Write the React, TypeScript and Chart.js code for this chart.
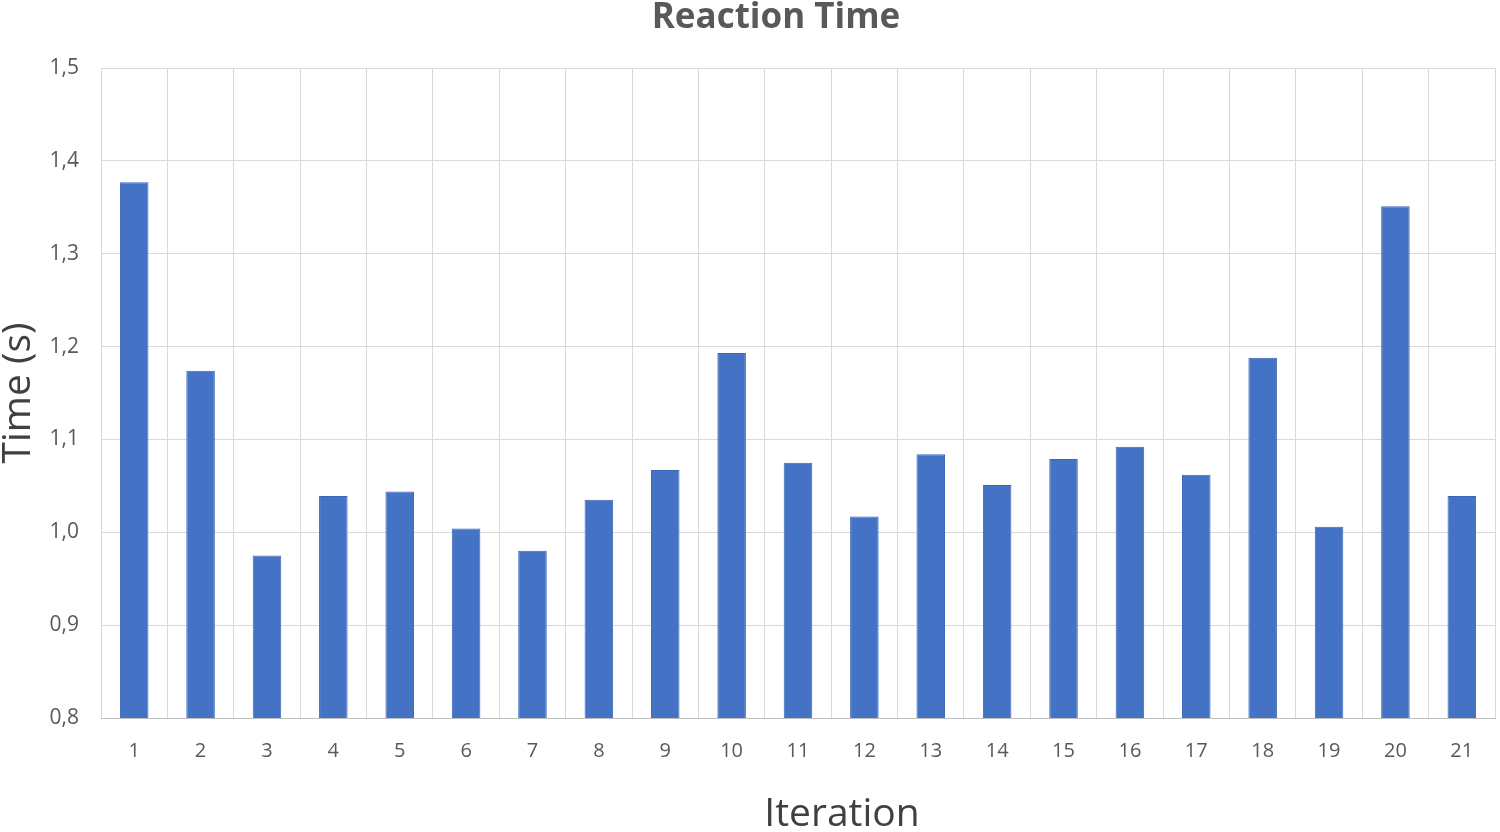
import React, { useEffect, useRef } from "react";
import { Chart, registerables } from "chart.js";

Chart.register(...registerables);

const iterations = ["1","2","3","4","5","6","7","8","9","10","11","12","13","14","15","16","17","18","19","20","21"];
const reactionTimes = [1.377, 1.174, 0.975, 1.039, 1.044, 1.004, 0.980, 1.035, 1.067, 1.193, 1.075, 1.017, 1.084, 1.051, 1.079, 1.092, 1.062, 1.188, 1.006, 1.351, 1.039];
const chartTitle = "Reaction Time";
const xTitle = "Iteration";
const yTitle = "Time (s)";

const FONT = "'Open Sans', 'Noto Sans', sans-serif";

const titlesPlugin = {
  id: "titlesPlugin",
  afterDraw(chart: any) {
    const { ctx } = chart;
    ctx.save();
    ctx.fillStyle = "#595959";
    ctx.textAlign = "center";
    ctx.textBaseline = "middle";
    ctx.font = `bold 35px ${FONT}`;
    ctx.fillText(chartTitle, 776, 18);
    ctx.fillStyle = "#404040";
    ctx.font = `39px ${FONT}`;
    ctx.fillText(xTitle, 842, 815);
    ctx.restore();
  },
};

export default function App() {
  const ref = useRef<HTMLCanvasElement | null>(null);
  useEffect(() => {
    if (!ref.current) return;
    const chart = new Chart(ref.current, {
      type: "bar",
      data: {
        labels: iterations,
        datasets: [
          {
            label: "Time",
            data: reactionTimes,
            backgroundColor: "#4472C4",
            borderColor: "#3A66BA",
            borderWidth: 1,
            barPercentage: 0.43,
            categoryPercentage: 1,
          },
        ],
      },
      options: {
        responsive: false,
        animation: false,
        layout: { padding: { top: 68, right: 5, left: 0, bottom: 0 } },
        plugins: {
          legend: { display: false },
          title: { display: false },
          tooltip: { enabled: false },
        },
        scales: {
          x: {
            grid: { color: "#d9d9d9", drawTicks: false, offset: true },
            border: { color: "#bfbfbf", width: 1 },
            ticks: { color: "#595959", font: { family: FONT, size: 20 }, padding: 21 },
            afterFit: (s: any) => { s.height = 114; },
          },
          y: {
            min: 0.8,
            max: 1.5,
            grid: { color: "#d9d9d9", drawTicks: false },
            border: { display: false },
            ticks: {
              stepSize: 0.1,
              color: "#595959",
              font: { family: FONT, size: 21 },
              padding: 22,
              callback: (v: any) => Number(v).toFixed(1).replace(".", ","),
            },
            title: {
              display: true,
              text: yTitle,
              color: "#404040",
              font: { family: FONT, size: 39, lineHeight: 0.95 },
              padding: { top: 0, bottom: 0 },
            },
            afterFit: (s: any) => { s.width = 101; },
          },
        },
      },
      plugins: [titlesPlugin],
    });
    return () => chart.destroy();
  }, []);
  return (
    <div style={{ position: "fixed", left: 0, top: 0, width: 1500, height: 832, background: "#fff" }}>
      <canvas ref={ref} width={1500} height={832} style={{ width: 1500, height: 832, display: "block" }} />
    </div>
  );
}
